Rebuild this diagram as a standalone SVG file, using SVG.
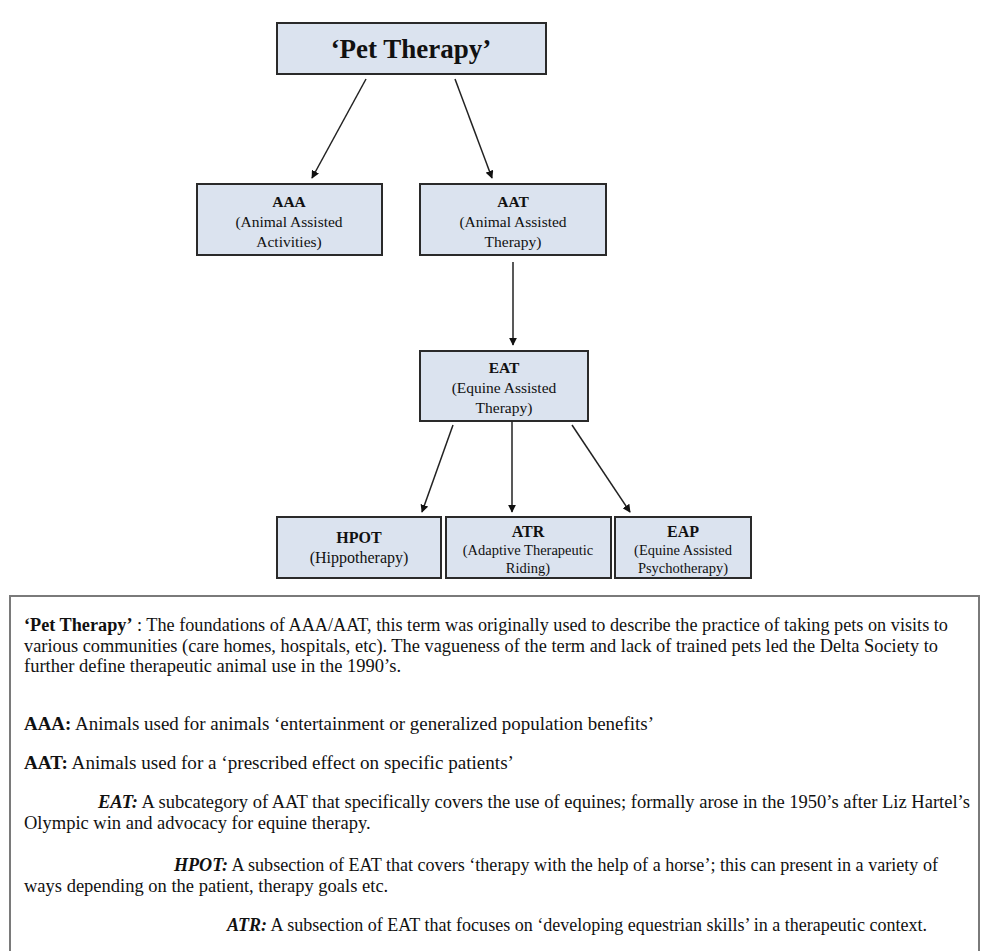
<svg xmlns="http://www.w3.org/2000/svg" width="981" height="951" viewBox="0 0 981 951">
<defs>
<marker id="ah" viewBox="0 0 10 10" refX="9" refY="5" markerWidth="8" markerHeight="8" markerUnits="userSpaceOnUse" orient="auto"><path d="M0,0 L10,5 L0,10 z" fill="#111"/></marker>
<style>
.box{fill:#dbe3ef;stroke:#2a2a2a;stroke-width:2}
.t{font-family:"Liberation Serif","Times New Roman",serif;fill:#111;text-anchor:middle}
.b{font-weight:bold}
.c{stroke:#222;stroke-width:1.5;fill:none;marker-end:url(#ah)}
.d{font-family:"Liberation Serif","Times New Roman",serif;fill:#111;font-size:18.5px}
</style>
</defs>
<rect width="981" height="951" fill="#fff"/>
<g id="pet-therapy"><rect class="box" x="277" y="23" width="269" height="51"/><text class="t b" x="411" y="58" font-size="27">‘Pet Therapy’</text></g>
<g id="aaa"><rect class="box" x="197" y="184" width="185" height="71"/><text class="t" font-size="15.5" x="289" y="207"><tspan class="b">AAA</tspan><tspan x="289" y="227">(Animal Assisted</tspan><tspan x="289" y="247">Activities)</tspan></text></g>
<g id="aat"><rect class="box" x="420" y="184" width="186" height="71"/><text class="t" font-size="15.5" x="513" y="207"><tspan class="b">AAT</tspan><tspan x="513" y="227">(Animal Assisted</tspan><tspan x="513" y="247">Therapy)</tspan></text></g>
<g id="eat"><rect class="box" x="420" y="351" width="168" height="70"/><text class="t" font-size="15.5" x="504" y="373"><tspan class="b">EAT</tspan><tspan x="504" y="393">(Equine Assisted</tspan><tspan x="504" y="413">Therapy)</tspan></text></g>
<g id="hpot"><rect class="box" x="277" y="517" width="164" height="61"/><text class="t" font-size="16" x="359" y="543"><tspan class="b">HPOT</tspan><tspan x="359" y="563">(Hippotherapy)</tspan></text></g>
<g id="atr"><rect class="box" x="446" y="517" width="165" height="61"/><text class="t" font-size="14.5" x="528" y="537"><tspan class="b" font-size="16">ATR</tspan><tspan x="528" y="555">(Adaptive Therapeutic</tspan><tspan x="528" y="573">Riding)</tspan></text></g>
<g id="eap"><rect class="box" x="615" y="517" width="136" height="61"/><text class="t" font-size="14.5" x="683" y="537"><tspan class="b" font-size="16">EAP</tspan><tspan x="683" y="555">(Equine Assisted</tspan><tspan x="683" y="573">Psychotherapy)</tspan></text></g>
<g id="connectors">
<line class="c" x1="366" y1="79" x2="312" y2="178"/>
<line class="c" x1="455" y1="79" x2="492" y2="178"/>
<line class="c" x1="513" y1="262" x2="513" y2="345"/>
<line class="c" x1="453" y1="425" x2="422" y2="512"/>
<line class="c" x1="512" y1="421" x2="512" y2="512"/>
<line class="c" x1="572" y1="425" x2="630" y2="512"/>
</g>
<g id="notes">
<rect x="10" y="596" width="969" height="370" fill="#fff" stroke="#7a7a7a" stroke-width="2"/>
<text class="d" x="24" y="631" textLength="924" lengthAdjust="spacingAndGlyphs"><tspan font-weight="bold">‘Pet Therapy’</tspan> : The foundations of AAA/AAT, this term was originally used to describe the practice of taking pets on visits to</text>
<text class="d" x="24" y="652" textLength="914" lengthAdjust="spacingAndGlyphs">various communities (care homes, hospitals, etc). The vagueness of the term and lack of trained pets led the Delta Society to</text>
<text class="d" x="24" y="672">further define therapeutic animal use in the 1990’s.</text>
<text class="d" x="24" y="730" textLength="630" lengthAdjust="spacingAndGlyphs"><tspan font-weight="bold">AAA:</tspan> Animals used for animals ‘entertainment or generalized population benefits’</text>
<text class="d" x="24" y="769" textLength="490" lengthAdjust="spacingAndGlyphs"><tspan font-weight="bold">AAT:</tspan> Animals used for a ‘prescribed effect on specific patients’</text>
<text class="d" x="98" y="808" textLength="872" lengthAdjust="spacingAndGlyphs"><tspan font-weight="bold" font-style="italic">EAT:</tspan> A subcategory of AAT that specifically covers the use of equines; formally arose in the 1950’s after Liz Hartel’s</text>
<text class="d" x="24" y="829">Olympic win and advocacy for equine therapy.</text>
<text class="d" x="174" y="871" textLength="764" lengthAdjust="spacingAndGlyphs"><tspan font-weight="bold" font-style="italic">HPOT:</tspan> A subsection of EAT that covers ‘therapy with the help of a horse’; this can present in a variety of</text>
<text class="d" x="24" y="892">ways depending on the patient, therapy goals etc.</text>
<text class="d" x="227" y="931" textLength="700" lengthAdjust="spacingAndGlyphs"><tspan font-weight="bold" font-style="italic">ATR:</tspan> A subsection of EAT that focuses on ‘developing equestrian skills’ in a therapeutic context.</text>
</g>
</svg>
